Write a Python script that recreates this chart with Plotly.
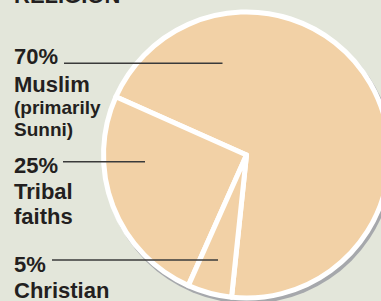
import plotly.graph_objects as go

# ---- data ----
religions = ["Muslim", "Tribal faiths", "Christian"]
shares = [70, 25, 5]
label_lines = [["Muslim", "(primarily", "Sunni)"], ["Tribal", "faiths"], ["Christian"]]
title_text = "RELIGION"

# ---- style / layout ----
W, H = 400, 301          # figure slightly wider than the window: pie is clipped on the right
FILL = "#f2d1a6"
BG = "#e3e6da"
INK = "#231f20"
LINE = "#3a3a3a"
SHADOW = "#a6a8ac"
FONT = "Liberation Sans, Arial, sans-serif"


def px(x):
    return x / W


def py(y):
    return (H - y) / H


cx, cy, R = 246.5, 155.0, 143.0

fig = go.Figure(
    go.Pie(
        labels=religions,
        values=shares,
        sort=False,
        direction="counterclockwise",
        rotation=-66,
        marker=dict(colors=[FILL] * len(shares), line=dict(color="white", width=5)),
        textinfo="none",
        hoverinfo="label+percent",
        showlegend=False,
        domain=dict(x=[px(cx - R), px(cx + R)], y=[py(cy + R), py(cy - R)]),
    )
)

# drop shadow behind the pie
Ro = R + 2.5
fig.add_shape(
    type="circle", xref="paper", yref="paper", layer="below",
    x0=px(cx + 2 - Ro), x1=px(cx + 2 + Ro), y0=py(cy + 3 + Ro), y1=py(cy + 3 - Ro),
    fillcolor=SHADOW, line=dict(width=0),
)

# text blocks: baselines (px) and font sizes for each line
block_baselines = [[64, 91.7, 114.5, 136], [172.7, 199.3, 224], [271.7, 297.7]]
block_sizes = [[22, 22, 19, 19], [22, 22, 22], [22, 22]]
leaders = [(64, 222.5, 63.2), (63, 145, 161.7), (52, 218, 260)]

ANN_X = 12


def add_text(text, baseline, size):
    center = baseline - 0.347 * size
    fig.add_annotation(
        text="<b>%s</b>" % text, x=px(ANN_X), y=py(center), xref="paper", yref="paper",
        xanchor="left", yanchor="middle", showarrow=False,
        font=dict(family=FONT, size=size, color=INK),
    )


add_text(title_text, 3, 22)
for share, lines, bases, sizes in zip(shares, label_lines, block_baselines, block_sizes):
    texts = ["%d%%" % share] + lines
    for t, b, s in zip(texts, bases, sizes):
        add_text(t, b, s)

for x0, x1, y in leaders:
    fig.add_shape(type="line", xref="paper", yref="paper", x0=px(x0), x1=px(x1),
                  y0=py(y), y1=py(y), line=dict(color=LINE, width=1.5), layer="above")

fig.update_layout(
    width=W, height=H, margin=dict(l=0, r=0, t=0, b=0),
    paper_bgcolor=BG, plot_bgcolor=BG, showlegend=False,
)

fig.write_html(
    "out.html",
    config={"displayModeBar": False},
    post_script="document.body.style.margin='0';document.body.style.overflow='hidden';",
)
